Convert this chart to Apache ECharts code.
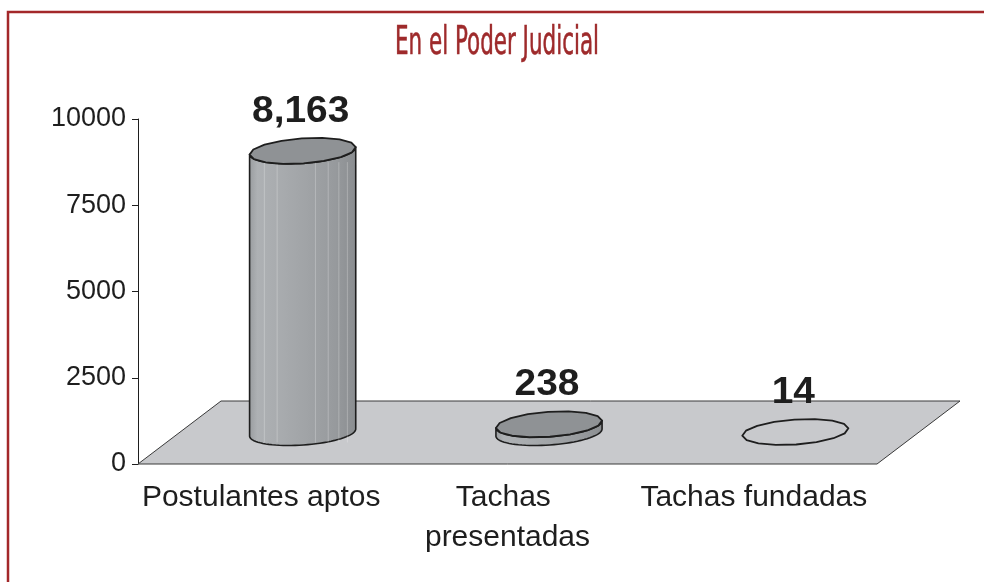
<!DOCTYPE html>
<html>
<head>
<meta charset="utf-8">
<script src="https://cdn.jsdelivr.net/npm/echarts@6/dist/echarts.min.js"></script>
<style>
html,body{margin:0;padding:0;background:#fff;}
#main{width:984px;height:582px;}
</style>
</head>
<body>
<div id="main"></div>
<script>
var titleText = 'En el Poder Judicial';
var categories = ['Postulantes aptos', 'Tachas presentadas', 'Tachas fundadas'];
var values = [8163, 238, 14];
var yTicks = [0, 2500, 5000, 7500, 10000];

// style config (not data)
var topFills = ['#8f9295', '#8f9295', 'none'];
var DEPTH_X = 83, DEPTH_Y = -63;

var chart = echarts.init(document.getElementById('main'));

function measureTitle(font, text) {
  var c = document.createElement('canvas').getContext('2d');
  c.font = font;
  return c.measureText(text).width;
}
var titleFont = '39px "Liberation Sans Narrow", "DejaVu Sans Condensed", "Liberation Sans", sans-serif';
var tw = measureTitle(titleFont, titleText);
var titleScale = 204 / tw;

function ellipsePts(cx, cy, rx, ry, a, t0, t1, n) {
  var pts = [];
  for (var k = 0; k <= n; k++) {
    var t = t0 + (t1 - t0) * k / n;
    var u = rx * Math.cos(t), v = ry * Math.sin(t);
    pts.push([cx + u * Math.cos(a) - v * Math.sin(a), cy + u * Math.sin(a) + v * Math.cos(a)]);
  }
  return pts;
}

function renderFloor(params, api) {
  var cs = params.coordSys;
  var y0 = api.coord([0, 0])[1];
  var x0 = cs.x, x1 = cs.x + cs.width;
  return {
    type: 'polygon',
    shape: { points: [[x0, y0], [x1, y0], [x1 + DEPTH_X, y0 + DEPTH_Y], [x0 + DEPTH_X, y0 + DEPTH_Y]] },
    style: { fill: '#c8c9cc', stroke: '#3a3a3a', lineWidth: 1 },
    silent: true
  };
}

function renderCyl(params, api) {
  var idx = api.value(0), val = api.value(1);
  var base = api.coord([idx, 0]);
  var top = api.coord([idx, val]);
  var bw = api.size([1, 0])[0];
  var rx = bw * 0.216, ry = 12.5, a = -0.07;
  var cx = base[0] + DEPTH_X / 2;
  var cyB = base[1] + DEPTH_Y / 2;
  var cyT = top[1] + DEPTH_Y / 2;
  var children = [];
  var h = cyB - cyT;
  if (h > 1) {
    var topFront = ellipsePts(cx, cyT, rx, ry, a, 0, Math.PI, 40);
    var botFront = ellipsePts(cx, cyB, rx, ry, a, Math.PI, 0, 40);
    children.push({
      type: 'polygon',
      shape: { points: topFront.concat(botFront) },
      style: {
        fill: new echarts.graphic.LinearGradient(0, 0, 1, 0, [
          { offset: 0, color: '#989b9e' },
          { offset: 0.08, color: '#aeb1b4' },
          { offset: 0.3, color: '#a8abae' },
          { offset: 0.55, color: '#a0a3a6' },
          { offset: 0.8, color: '#979a9d' },
          { offset: 1, color: '#8a8d90' }
        ]),
        stroke: '#1e1e1e', lineWidth: 1.6, lineJoin: 'round'
      }
    });
    if (h > 40) {
      [0.14, 0.26, 0.62, 0.74, 0.84, 0.92].forEach(function (f) {
        var xx = cx - rx + 2 * rx * f;
        children.push({
          type: 'line',
          shape: { x1: xx, y1: cyT + ry * 0.9, x2: xx, y2: cyB + ry * 0.8 },
          style: { stroke: 'rgba(255,255,255,0.25)', lineWidth: 1 }
        });
      });
    }
  }
  children.push({
    type: 'polygon',
    shape: { points: ellipsePts(cx, cyT, rx, ry, a, 0, Math.PI * 2, 16) },
    style: { fill: topFills[params.dataIndex], stroke: '#1e1e1e', lineWidth: 1.8, lineJoin: 'round' }
  });
  children.push({
    type: 'text',
    scaleX: 1.08, x: cx - 2, y: cyT - 39,
    style: {
      text: val.toLocaleString('en-US'),
      x: 0, y: 0,
      align: 'center', verticalAlign: 'middle',
      font: 'bold 36px "Liberation Sans", Arial, sans-serif',
      fill: '#1e1e1e'
    }
  });
  return { type: 'group', children: children };
}

chart.setOption({
  animation: false,
  backgroundColor: '#ffffff',
  graphic: [
    {
      type: 'rect', shape: { x: 8, y: 12, width: 1000, height: 600 },
      style: { fill: 'none', stroke: '#a3282a', lineWidth: 2.5 }, z: -10, silent: true
    },
    {
      type: 'text', x: 497, y: 44, scaleX: titleScale,
      style: { text: titleText, font: titleFont, fill: '#9e2a2b', align: 'center', verticalAlign: 'middle',
               stroke: '#9e2a2b', lineWidth: 0.6 }
    }
  ],
  grid: { left: 138, right: 107, top: 119, bottom: 118 },
  xAxis: {
    type: 'category',
    data: categories,
    axisLine: { show: false },
    axisTick: { show: false },
    axisLabel: {
      interval: 0, margin: 14, fontSize: 30, lineHeight: 40,
      fontFamily: '"Liberation Sans", Arial, sans-serif', color: '#1e1e1e',
      width: 244, overflow: 'break'
    }
  },
  yAxis: {
    type: 'value', min: yTicks[0], max: yTicks[yTicks.length - 1], interval: 2500,
    splitLine: { show: false },
    axisLine: { show: true, lineStyle: { color: '#1e1e1e', width: 1 } },
    axisTick: { show: true, length: 6, lineStyle: { color: '#1e1e1e' } },
    axisLabel: { margin: 12, fontSize: 27, fontFamily: '"Liberation Sans", Arial, sans-serif', color: '#1e1e1e',
                 formatter: function (v) { return String(v); } }
  },
  series: [
    {
      type: 'custom', renderItem: renderFloor, data: [[0, 0]], z: 1, silent: true
    },
    {
      type: 'custom', renderItem: renderCyl,
      data: values.map(function (v, i) { return [i, v]; }),
      encode: { x: 0, y: 1 }, z: 2
    }
  ]
});
</script>
</body>
</html>
